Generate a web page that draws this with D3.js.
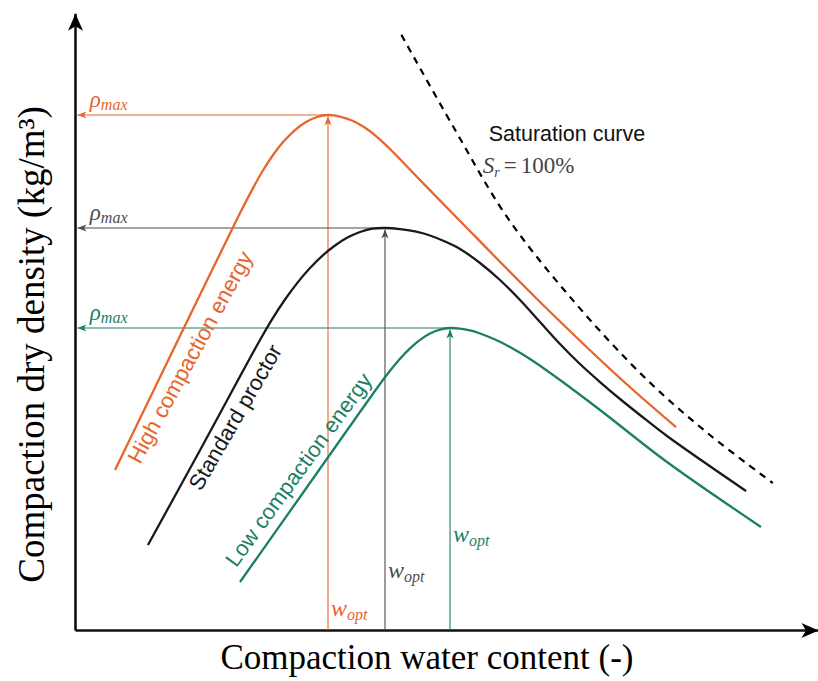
<!DOCTYPE html>
<html><head><meta charset="utf-8">
<script src="https://cdn.jsdelivr.net/npm/d3@7"></script>
<style>html,body{margin:0;padding:0;background:#fff}</style>
</head><body><svg id="chart" width="818" height="681"></svg>
<script>
// ---------------- data (abstract units) ----------------
const curveNames = ["High compaction energy", "Standard proctor", "Low compaction energy"];
const highW   = [5.41, 13.92, 22.30, 23.78, 25.27, 26.76, 28.24, 29.73, 31.22, 32.70, 34.19,
                 35.81, 37.43, 39.05, 40.68, 42.57, 46.62, 52.03, 62.84, 73.92, 81.22];
const highRho = [26.67, 48.33, 69.50, 73.00, 76.33, 79.17, 81.50, 83.33, 84.67, 85.50, 85.83,
                 85.58, 84.92, 83.83, 82.33, 80.17, 75.00, 68.17, 54.67, 41.67, 33.83];
const stdW    = [9.86, 17.43, 25.00, 26.69, 28.38, 30.07, 31.76, 33.45, 35.14, 36.82, 38.51, 40.20, 41.89,
                 43.92, 45.95, 47.97, 50.00, 52.03, 54.73, 57.43, 60.14, 62.84, 65.54, 68.24, 70.95,
                 73.65, 76.35, 80.00, 90.68];
const stdRho  = [14.17, 31.17, 48.33, 51.90, 55.08, 57.90, 60.33, 62.40, 64.08, 65.40, 66.33, 66.90, 67.00,
                 66.83, 66.42, 65.75, 64.75, 63.50, 61.17, 58.33, 55.00, 51.33, 47.67, 44.33, 41.33,
                 38.50, 35.83, 32.33, 23.17];
const lowW    = [22.30, 30.41, 38.51, 39.86, 41.22, 42.57, 43.92, 45.27, 46.62, 47.97, 49.32, 50.68,
                 52.03, 53.38, 54.73, 56.76, 58.78, 61.49, 65.54, 70.95, 80.00, 92.70];
const lowRho  = [8.00, 22.17, 36.33, 38.67, 41.00, 43.20, 45.20, 46.93, 48.35, 49.42, 50.08, 50.33,
                 50.23, 49.92, 49.42, 48.42, 47.17, 45.17, 41.67, 36.67, 28.00, 17.17];
const satW    = [44.1, 51.2, 58.4, 67.6, 77.3, 85.8, 94.3];
const satRho  = [99.2, 83.7, 68.8, 54.5, 41.7, 32.5, 24.5];
const wOpt    = [34.19, 41.89, 50.68];
const rhoMax  = [85.83, 67.0, 50.33];
const wLabelRho = [2.3, 8.7, 14.7];
const nameLabelW   = [8.8, 17.0, 21.8];
const nameLabelRho = [27.5, 23.0, 10.3];
const nameLabelAngle = [-61.5, -60, -54];
const xTitle = "Compaction water content (-)";
const yTitle = "Compaction dry density (kg/m³)";
const satTitle = "Saturation curve";
const satLabelW = [55.9, 55.1];
const satLabelRho = [81.5, 76.2];

// ---------------- styles ----------------
const colors = ["#e8652b", "#1a1a1a", "#1b7f66"];
const guideColors = ["#e8652b", "#4d4d4d", "#1b7f66"];
const serif = "'Liberation Serif','Times New Roman',serif";
const sans = "'Liberation Sans',Arial,sans-serif";

const svg = d3.select("#chart");
const x = d3.scaleLinear().domain([0, 100]).range([75, 815]);
const y = d3.scaleLinear().domain([0, 100]).range([630, 30]);

const defs = svg.append("defs");
defs.append("marker").attr("id", "axArrow")
  .attr("viewBox", "-19 -9 20 18").attr("refX", 0).attr("refY", 0)
  .attr("markerWidth", 20).attr("markerHeight", 18)
  .attr("markerUnits", "userSpaceOnUse").attr("orient", "auto")
  .append("path").attr("d", "M0,0L-17,-7.5L-12.5,0L-17,7.5Z").attr("fill", "#000");
guideColors.forEach((c, i) => {
  defs.append("marker").attr("id", "gArrow" + i)
    .attr("viewBox", "-11 -5 12 10").attr("refX", 0).attr("refY", 0)
    .attr("markerWidth", 12).attr("markerHeight", 10)
    .attr("markerUnits", "userSpaceOnUse").attr("orient", "auto")
    .append("path").attr("d", "M0,0L-9,-3.6L-6.5,0L-9,3.6Z").attr("fill", c);
});

// ---------------- axes ----------------
const xAxisScale = d3.scaleLinear().domain([0, 100.4]).range([x(0), x(100.4)]);
const yAxisScale = d3.scaleLinear().domain([0, 102.8]).range([y(0), y(102.8)]);
const gx = svg.append("g").attr("transform", `translate(0,${y(0)})`)
  .call(d3.axisBottom(xAxisScale).ticks(0).tickSizeOuter(0));
const gy = svg.append("g").attr("transform", `translate(${x(0)},0)`)
  .call(d3.axisLeft(yAxisScale).ticks(0).tickSizeOuter(0));
[gx, gy].forEach(g => g.select(".domain")
  .attr("stroke", "#111").attr("stroke-width", 2.6).attr("marker-end", "url(#axArrow)"));

// ---------------- guide arrows ----------------
wOpt.forEach((w, i) => {
  svg.append("line").attr("x1", x(w)).attr("x2", x(0) + 2.5)
    .attr("y1", y(rhoMax[i])).attr("y2", y(rhoMax[i]))
    .attr("stroke", guideColors[i]).attr("stroke-width", 1.1)
    .attr("marker-end", `url(#gArrow${i})`);
  svg.append("line").attr("x1", x(w)).attr("x2", x(w))
    .attr("y1", y(0)).attr("y2", y(rhoMax[i]) + 1.5)
    .attr("stroke", guideColors[i]).attr("stroke-width", 1.1)
    .attr("marker-end", `url(#gArrow${i})`);
});

// ---------------- curves ----------------
const line = d3.line().x(d => x(d[0])).y(d => y(d[1])).curve(d3.curveCatmullRom.alpha(0.5));
const series = [d3.zip(highW, highRho), d3.zip(stdW, stdRho), d3.zip(lowW, lowRho)];
series.forEach((s, i) => {
  svg.append("path").datum(s).attr("d", line)
    .attr("fill", "none").attr("stroke", colors[i]).attr("stroke-width", 2.3)
    .attr("stroke-linejoin", "round");
});
svg.append("path").datum(d3.zip(satW, satRho)).attr("d", line)
  .attr("fill", "none").attr("stroke", "#000").attr("stroke-width", 2.2)
  .attr("stroke-dasharray", "7,6");

// ---------------- labels ----------------
rhoMax.forEach((r, i) => {
  const t = svg.append("text").attr("x", x(2.0)).attr("y", y(r) - 8)
    .attr("fill", guideColors[i]).attr("font-family", serif).attr("font-style", "italic");
  t.append("tspan").attr("font-size", 23).text("ρ");
  t.append("tspan").attr("font-size", 16).attr("dy", 3).text("max");
});
wOpt.forEach((w, i) => {
  const t = svg.append("text").attr("x", x(w) + 3).attr("y", y(wLabelRho[i]))
    .attr("fill", guideColors[i]).attr("font-family", serif).attr("font-style", "italic");
  t.append("tspan").attr("font-size", 24).text("w");
  t.append("tspan").attr("font-size", 16).attr("dy", 4).text("opt");
});
curveNames.forEach((n, i) => {
  svg.append("text")
    .attr("transform", `translate(${x(nameLabelW[i])},${y(nameLabelRho[i])}) rotate(${nameLabelAngle[i]})`)
    .attr("font-family", sans).attr("font-size", 22).attr("fill", colors[i]).text(n);
});
svg.append("text").attr("x", x(satLabelW[0])).attr("y", y(satLabelRho[0]))
  .attr("font-family", sans).attr("font-size", 21.5).attr("fill", "#111").text(satTitle);
const st = svg.append("text").attr("x", x(satLabelW[1])).attr("y", y(satLabelRho[1]))
  .attr("font-family", serif).attr("font-size", 23).attr("fill", "#444");
st.append("tspan").attr("font-style", "italic").text("S");
st.append("tspan").attr("font-style", "italic").attr("font-size", 14).attr("dy", 4).text("r");
st.append("tspan").attr("dy", -4).attr("dx", 4).text("=");
st.append("tspan").attr("dx", 4).text("100%");

svg.append("text").attr("x", 427).attr("y", 669)
  .attr("text-anchor", "middle").attr("font-family", serif).attr("font-size", 35)
  .attr("fill", "#000").text(xTitle);
svg.append("text").attr("transform", `translate(44,${y(47.6)}) rotate(-90)`)
  .attr("text-anchor", "middle").attr("font-family", serif).attr("font-size", 37)
  .attr("fill", "#000").text(yTitle);
</script></body></html>
